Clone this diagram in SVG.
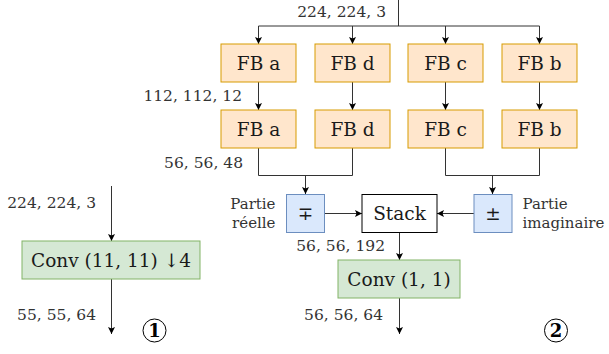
<svg xmlns="http://www.w3.org/2000/svg" width="609" height="354" viewBox="0 0 609 354">
<style>
.fb{fill:#ffe6cc;stroke:#d79b00;stroke-width:1}
.cv{fill:#d5e8d4;stroke:#82b366;stroke-width:1}
.bl{fill:#dae8fc;stroke:#6c8ebf;stroke-width:1}
.wh{fill:#ffffff;stroke:#000000;stroke-width:1}
.bt{font-family:"DejaVu Serif",serif;font-size:18.5px;fill:#1a1a1a;text-anchor:middle}
.lb{font-family:"DejaVu Serif",serif;font-size:15.5px;fill:#333333}
.pl{font-family:"DejaVu Serif",serif;font-size:15px;fill:#333333}
.num{font-family:"DejaVu Serif",serif;font-size:18px;font-weight:bold;fill:#000;text-anchor:middle}
.ln{fill:none;stroke:#333333;stroke-width:1}
.ar{fill:none;stroke:#333333;stroke-width:1;marker-end:url(#arr)}
</style>
<defs>
<marker id="arr" markerUnits="userSpaceOnUse" markerWidth="8" markerHeight="8" refX="7" refY="3.5" orient="auto">
<path d="M0,0 L7,3.5 L0,7 L1.5,3.5 z" fill="#000"/>
</marker>
</defs>
<g id="connectors">
<path class="ln" d="M398.5,0 V26"/>
<path class="ln" d="M258.5,26 H539.5"/>
<path class="ar" d="M258.5,26 V44"/>
<path class="ar" d="M352.5,26 V44"/>
<path class="ar" d="M445.5,26 V44"/>
<path class="ar" d="M539.5,26 V44"/>
<path class="ar" d="M258.5,82 V110"/>
<path class="ar" d="M352.5,82 V110"/>
<path class="ar" d="M445.5,82 V110"/>
<path class="ar" d="M539.5,82 V110"/>
<path class="ln" d="M258.5,148 V175.5 H352.5 V148"/>
<path class="ln" d="M445.5,148 V175.5 H539.5 V148"/>
<path class="ar" d="M305.5,175.5 V194"/>
<path class="ar" d="M492.5,175.5 V194"/>
<path class="ar" d="M324,213.5 H362"/>
<path class="ar" d="M474,213.5 H437"/>
<path class="ar" d="M399.5,232 V260"/>
<path class="ar" d="M399.5,298 V334"/>
<path class="ar" d="M111.5,186 V241"/>
<path class="ar" d="M111.5,279 V334"/>
</g>
<g id="fb-a1"><rect class="fb" x="221" y="44" width="75" height="38"/><text class="bt" x="258.5" y="70">FB a</text></g>
<g id="fb-d1"><rect class="fb" x="315" y="44" width="75" height="38"/><text class="bt" x="352.5" y="70">FB d</text></g>
<g id="fb-c1"><rect class="fb" x="408" y="44" width="75" height="38"/><text class="bt" x="445.5" y="70">FB c</text></g>
<g id="fb-b1"><rect class="fb" x="502" y="44" width="75" height="38"/><text class="bt" x="539.5" y="70">FB b</text></g>
<g id="fb-a2"><rect class="fb" x="221" y="110" width="75" height="38"/><text class="bt" x="258.5" y="136">FB a</text></g>
<g id="fb-d2"><rect class="fb" x="315" y="110" width="75" height="38"/><text class="bt" x="352.5" y="136">FB d</text></g>
<g id="fb-c2"><rect class="fb" x="408" y="110" width="75" height="38"/><text class="bt" x="445.5" y="136">FB c</text></g>
<g id="fb-b2"><rect class="fb" x="502" y="110" width="75" height="38"/><text class="bt" x="539.5" y="136">FB b</text></g>
<g id="mp"><rect class="bl" x="286.5" y="194.5" width="38" height="38"/><text class="bt" x="305.5" y="220">∓</text></g>
<g id="pm"><rect class="bl" x="474" y="194.5" width="38" height="38"/><text class="bt" x="493" y="220">±</text></g>
<g id="stack"><rect class="wh" x="362" y="194.5" width="75" height="38"/><text class="bt" x="399.5" y="220">Stack</text></g>
<g id="conv11"><rect class="cv" x="338" y="260" width="122" height="38"/><text class="bt" x="399" y="286">Conv (1, 1)</text></g>
<g id="conv1111"><rect class="cv" x="22" y="241" width="178" height="38"/><text class="bt" x="111" y="267">Conv (11, 11) ↓4</text></g>
<g id="labels">
<text class="lb" x="386" y="17" text-anchor="end">224, 224, 3</text>
<text class="lb" x="242" y="100.5" text-anchor="end">112, 112, 12</text>
<text class="lb" x="243" y="168" text-anchor="end">56, 56, 48</text>
<text class="pl" x="275.5" y="209" text-anchor="end">Partie</text>
<text class="pl" x="275.5" y="227.5" text-anchor="end">réelle</text>
<text class="pl" x="522.5" y="209">Partie</text>
<text class="pl" x="522.5" y="227.5">imaginaire</text>
<text class="lb" x="385" y="251" text-anchor="end">56, 56, 192</text>
<text class="lb" x="383" y="320" text-anchor="end">56, 56, 64</text>
<text class="lb" x="96" y="208" text-anchor="end">224, 224, 3</text>
<text class="lb" x="96" y="320" text-anchor="end">55, 55, 64</text>
</g>
<g id="marker1"><circle cx="154.5" cy="330.5" r="11.5" fill="none" stroke="#000" stroke-width="1"/><text class="num" x="154.5" y="337">1</text></g>
<g id="marker2"><circle cx="556" cy="330.5" r="11.5" fill="none" stroke="#000" stroke-width="1"/><text class="num" x="556" y="337">2</text></g>
</svg>
